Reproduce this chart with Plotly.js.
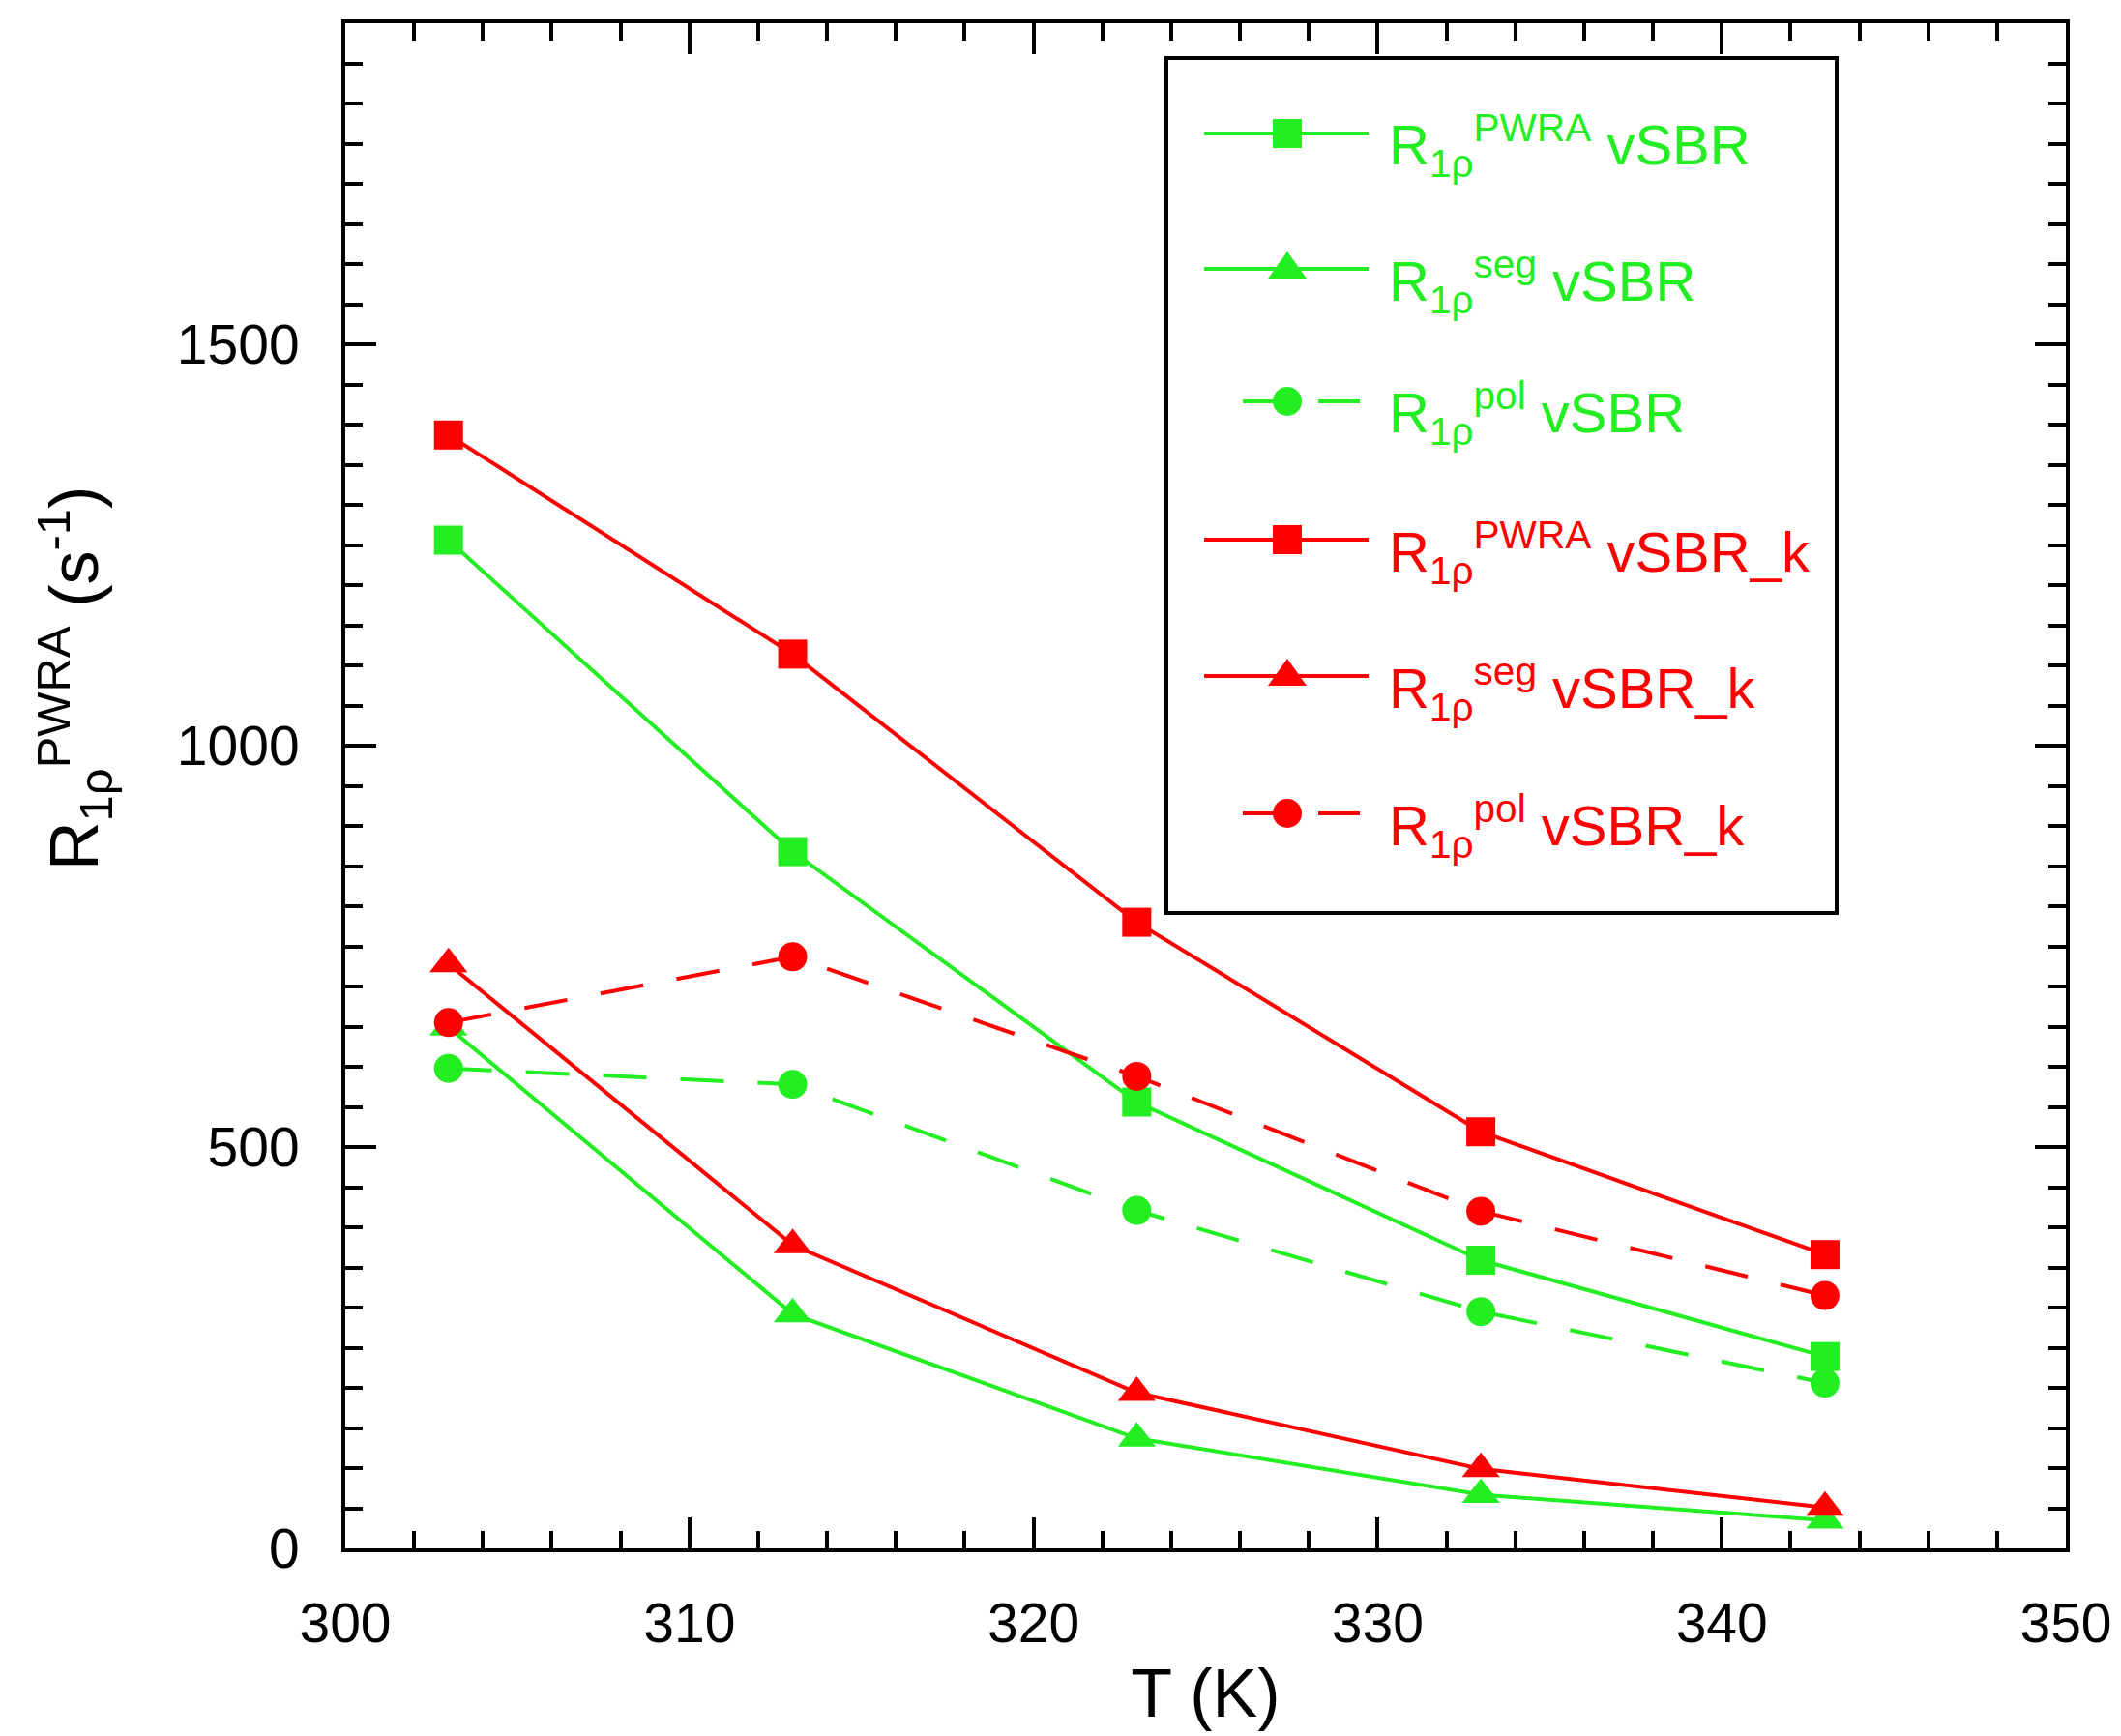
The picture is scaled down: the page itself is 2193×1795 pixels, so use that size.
<!DOCTYPE html>
<html>
<head>
<meta charset="utf-8">
<script src="https://cdn.plot.ly/plotly-3.0.1.min.js"></script>
<style>body{margin:0;background:#fff}</style>
</head>
<body>
<div id="chart" style="width:2193px;height:1795px"></div>
<script>
// temperature (K)
const temps = [303, 313, 323, 333, 343];

// R1rho (s^-1)
const pwraSBR  = [1256, 868, 556, 359, 239];
const segSBR   = [649, 292, 137, 67, 35];
const polSBR   = [598, 578, 421, 295, 206];
const pwraSBRk = [1387, 1114, 780, 519, 366];
const segSBRk  = [728, 378, 194, 99, 51];
const polSBRk  = [655, 737, 588, 420, 315];

const seriesNames = [
    'R<sub>1ρ</sub><sup>PWRA</sup> vSBR',
    'R<sub>1ρ</sub><sup>seg</sup> vSBR',
    'R<sub>1ρ</sub><sup>pol</sup> vSBR',
    'R<sub>1ρ</sub><sup>PWRA</sup> vSBR_k',
    'R<sub>1ρ</sub><sup>seg</sup> vSBR_k',
    'R<sub>1ρ</sub><sup>pol</sup> vSBR_k'
];
const seriesValues = [pwraSBR, segSBR, polSBR, pwraSBRk, segSBRk, polSBRk];

const GREEN = '#22ee22';
const RED = '#ff0000';
const seriesColors = [GREEN, GREEN, GREEN, RED, RED, RED];
const seriesSymbols = ['square', 'triangle-up', 'circle', 'square', 'triangle-up', 'circle'];
const seriesDashed = [false, false, true, false, false, true];

const FONT = 'Liberation Sans, Arial, sans-serif';

// plot box in pixels
const L = 357, R = 2136, T = 24, B = 1601;
function px(x) { return (x - L) / (R - L); }
function py(y) { return (B - y) / (B - T); }

let data = [];
for (let i = 0; i < seriesNames.length; i++) {
    data.push({
        type: 'scatter',
        mode: 'lines+markers',
        name: seriesNames[i],
        x: temps,
        y: seriesValues[i],
        line: {color: seriesColors[i], width: 4, dash: seriesDashed[i] ? '45px,35px' : 'solid'},
        marker: {
            color: seriesColors[i],
            symbol: seriesSymbols[i],
            size: seriesSymbols[i] == 'triangle-up' ? 34 : 30
        },
        showlegend: false
    });
}

// hand-drawn legend (long line samples like the original)
let shapes = [{
    type: 'rect', xref: 'paper', yref: 'paper',
    x0: px(1206), x1: px(1899), y0: py(944), y1: py(60),
    line: {color: '#000', width: 4}, fillcolor: 'rgba(0,0,0,0)'
}];
let annotations = [];
const rowY = [138, 278, 415, 558, 699, 841];
const markX = 1331;

for (let i = 0; i < seriesNames.length; i++) {
    let c = seriesColors[i];
    let y = py(rowY[i]);
    if (seriesDashed[i]) {
        shapes.push({type: 'line', xref: 'paper', yref: 'paper', x0: px(1285), x1: px(markX), y0: y, y1: y, line: {color: c, width: 4}});
        shapes.push({type: 'line', xref: 'paper', yref: 'paper', x0: px(1363), x1: px(1406), y0: y, y1: y, line: {color: c, width: 4}});
    } else {
        shapes.push({type: 'line', xref: 'paper', yref: 'paper', x0: px(1245), x1: px(1415), y0: y, y1: y, line: {color: c, width: 4}});
    }
    let m = {
        xref: 'paper', yref: 'paper', xsizemode: 'pixel', ysizemode: 'pixel',
        xanchor: px(markX), yanchor: y, fillcolor: c, line: {width: 0}
    };
    if (seriesSymbols[i] == 'square') {
        Object.assign(m, {type: 'rect', x0: -15, x1: 15, y0: -15, y1: 15});
    } else if (seriesSymbols[i] == 'circle') {
        Object.assign(m, {type: 'circle', x0: -15, x1: 15, y0: -15, y1: 15});
    } else {
        Object.assign(m, {type: 'path', path: 'M-20,-10 L20,-10 L0,18 Z'});
    }
    shapes.push(m);

    annotations.push({
        xref: 'paper', yref: 'paper', x: px(1434), y: py(rowY[i] + 13),
        xanchor: 'left', yanchor: 'middle', showarrow: false,
        text: seriesNames[i], font: {family: FONT, size: 58, color: c}
    });
}

// y axis title
annotations.push({
    xref: 'paper', yref: 'paper', x: px(77), y: py(702),
    xanchor: 'center', yanchor: 'middle', showarrow: false, textangle: -90,
    text: 'R<sub>1ρ</sub><sup>PWRA</sup> (s<sup>-1</sup>)',
    font: {family: FONT, size: 70, color: '#000'}
});

const axisCommon = {
    showgrid: false, zeroline: false,
    showline: true, linecolor: '#000', linewidth: 4, mirror: 'ticks',
    ticks: 'inside', ticklen: 32, tickwidth: 4, tickcolor: '#000',
    tickfont: {family: FONT, size: 57, color: '#000'}
};

let layout = {
    width: 2193, height: 1795,
    margin: {l: L, r: 2193 - R, t: T, b: 1795 - B},
    paper_bgcolor: '#fff', plot_bgcolor: '#fff',
    showlegend: false,
    xaxis: Object.assign({}, axisCommon, {
        range: [300, 350], dtick: 10, tick0: 300,
        minor: {dtick: 2, ticks: 'inside', ticklen: 18, tickwidth: 4, tickcolor: '#000'},
        ticklabelstandoff: 25,
        title: {text: 'T (K)', font: {family: FONT, size: 70, color: '#000'}, standoff: 18}
    }),
    yaxis: Object.assign({}, axisCommon, {
        range: [0, 1900], dtick: 500, tick0: 0,
        minor: {dtick: 50, ticks: 'inside', ticklen: 18, tickwidth: 4, tickcolor: '#000'},
        ticklabelstandoff: 32
    }),
    shapes: shapes,
    annotations: annotations
};

Plotly.newPlot('chart', data, layout, {staticPlot: true});
</script>
</body>
</html>
